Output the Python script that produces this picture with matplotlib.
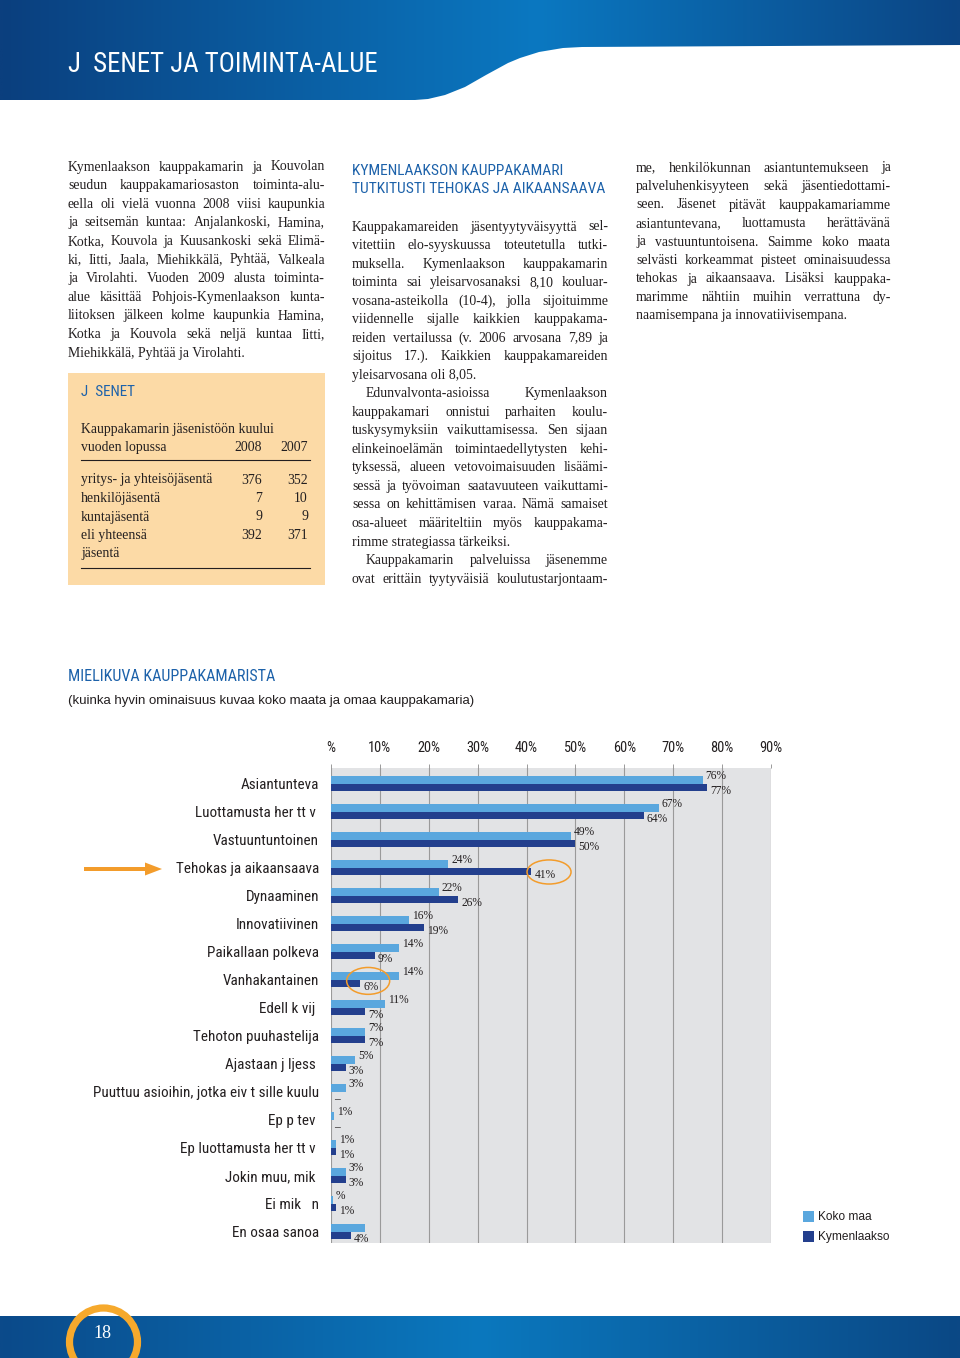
import matplotlib
matplotlib.use('Agg')
import matplotlib.pyplot as plt
import matplotlib.font_manager as fm
from matplotlib.patches import Rectangle, Ellipse, Circle, FancyArrow
from matplotlib.path import Path
from matplotlib.colors import LinearSegmentedColormap
import numpy as np

# ---- chart data ----
categories = ["Asiantunteva", "Luottamusta her tt v ", "Vastuuntuntoinen",
              "Tehokas ja aikaansaava", "Dynaaminen", "Innovatiivinen",
              "Paikallaan polkeva", "Vanhakantainen", "Edell k vij ",
              "Tehoton puuhastelija", "Ajastaan j ljess ",
              "Puuttuu asioihin, jotka eiv t sille kuulu", "Ep p tev ",
              "Ep luottamusta her tt v ", "Jokin muu, mik ", "Ei mik   n",
              "En osaa sanoa"]
koko_maa = [76, 67, 49, 24, 22, 16, 14, 14, 11, 7, 5, 3, 0.7, 1, 3, 0.4, 7]
koko_maa_labels = ["76%", "67%", "49%", "24%", "22%", "16%", "14%", "14%", "11%",
                   "7%", "5%", "3%", "1%", "1%", "3%", "%", ""]
kymenlaakso = [77, 64, 50, 41, 26, 19, 9, 6, 7, 7, 3, 0, 0, 1, 3, 1, 4]
kymenlaakso_labels = ["77%", "64%", "50%", "41%", "26%", "19%", "9%", "6%", "7%",
                      "7%", "3%", "\u2013", "\u2013", "1%", "3%", "1%", "4%"]
x_ticks = [0, 10, 20, 30, 40, 50, 60, 70, 80, 90]
x_tick_labels = ["%", "10%", "20%", "30%", "40%", "50%", "60%", "70%", "80%", "90%"]
series_names = ["Koko maa", "Kymenlaakso"]

# members table
member_rows = ["yritys- ja yhteisöjäsentä", "henkilöjäsentä", "kuntajäsentä", "eli yhteensä"]
members_2008 = [376, 7, 9, 392]
members_2007 = [352, 10, 9, 371]

# ---- page text ----
left_lines = [
    "Kymenlaakson kauppakamarin ja Kouvolan",
    "seudun kauppakamariosaston toiminta-alu-",
    "eella oli vielä vuonna 2008 viisi kaupunkia",
    "ja seitsemän kuntaa: Anjalankoski, Hamina,",
    "Kotka, Kouvola ja Kuusankoski sekä Elimä-",
    "ki, Iitti, Jaala, Miehikkälä, Pyhtää, Valkeala",
    "ja Virolahti. Vuoden 2009 alusta toiminta-",
    "alue käsittää Pohjois-Kymenlaakson kunta-",
    "liitoksen jälkeen kolme kaupunkia Hamina,",
    "Kotka ja Kouvola sekä neljä kuntaa Iitti,",
    "|Miehikkälä, Pyhtää ja Virolahti.",
]
mid_lines = [
    "Kauppakamareiden jäsentyytyväisyyttä sel-",
    "vitettiin elo-syyskuussa toteutetulla tutki-",
    "muksella. Kymenlaakson kauppakamarin",
    "toiminta sai yleisarvosanaksi 8,10 kouluar-",
    "vosana-asteikolla (10-4), jolla sijoituimme",
    "viidennelle sijalle kaikkien kauppakama-",
    "reiden vertailussa (v. 2006 arvosana 7,89 ja",
    "sijoitus 17.). Kaikkien kauppakamareiden",
    "|yleisarvosana oli 8,05.",
    ">Edunvalvonta-asioissa Kymenlaakson",
    "kauppakamari onnistui parhaiten koulu-",
    "tuskysymyksiin vaikuttamisessa. Sen sijaan",
    "elinkeinoelämän toimintaedellytysten kehi-",
    "tyksessä, alueen vetovoimaisuuden lisäämi-",
    "sessä ja työvoiman saatavuuteen vaikuttami-",
    "sessa on kehittämisen varaa. Nämä samaiset",
    "osa-alueet määriteltiin myös kauppakama-",
    "|rimme strategiassa tärkeiksi.",
    ">Kauppakamarin palveluissa jäsenemme",
    "ovat erittäin tyytyväisiä koulutustarjontaam-",
]
right_lines = [
    "me, henkilökunnan asiantuntemukseen ja",
    "palveluhenkisyyteen sekä jäsentiedottami-",
    "seen. Jäsenet pitävät kauppakamariamme",
    "asiantuntevana, luottamusta herättävänä",
    "ja vastuuntuntoisena. Saimme koko maata",
    "selvästi korkeammat pisteet ominaisuudessa",
    "tehokas ja aikaansaava. Lisäksi kauppaka-",
    "marimme nähtiin muihin verrattuna dy-",
    "|naamisempana ja innovatiivisempana.",
]

# ---- fonts ----
have = {f.name for f in fm.fontManager.ttflist}
def pick(*names):
    for n in names:
        if n in have:
            return n
    return 'DejaVu Sans'
NARROW = pick('Roboto Condensed', 'Liberation Sans Narrow', 'DejaVu Sans Condensed', 'Liberation Sans')
SERIF = pick('Liberation Serif', 'DejaVu Serif')
SANS = pick('Liberation Sans', 'Open Sans')

TXT = '#231f20'
BLUE_HEAD = '#1d62aa'
LIGHT = '#5aa7de'
DARK = '#233f8d'
ORANGE = '#f39c2b'

fig = plt.figure(figsize=(9.6, 13.58), dpi=100)
pg = fig.add_axes([0, 0, 1, 1])
pg.axis('off')

# header band with gradient
hdr_cmap = LinearSegmentedColormap.from_list('hdr', [(0, '#0b3f7e'), (0.56, '#0a78c1'), (1, '#0c4584')])
grad = np.linspace(0, 1, 512).reshape(1, -1)
im = pg.imshow(grad, extent=[0, 960, 100, 0], cmap=hdr_cmap, aspect='auto', zorder=1)
hv = [(0, 0), (960, 0), (960, 45), (582, 47), (563, 48), (539, 52), (520, 58),
      (508, 63), (486, 75), (465, 87), (445, 95), (428, 99), (415, 100), (0, 100), (0, 0)]
hpath = Path(hv, [Path.MOVETO] + [Path.LINETO] * (len(hv) - 2) + [Path.CLOSEPOLY])
im.set_clip_path(hpath, transform=pg.transData)

# footer band
ftr_cmap = LinearSegmentedColormap.from_list('ftr', [(0, '#0b4a8a'), (0.5, '#0a78be'), (1, '#0b4885')])
pg.imshow(grad, extent=[0, 960, 1358, 1316], cmap=ftr_cmap, aspect='auto', zorder=1)
pg.set_xlim(0, 960)
pg.set_ylim(1358, 0)

r = fig.canvas.get_renderer()

def fit(t, w):
    cur = t.get_window_extent(r).width
    t.set_fontsize(t.get_fontsize() * w / cur)
    return t

# title
t = pg.text(68, 72, "J  SENET JA TOIMINTA-ALUE", family=NARROW, fontsize=20, color='white',
            va='baseline', zorder=3)
fit(t, 310)

# page number circle
pg.add_patch(Circle((103.5, 1342), 34, fill=False, ec='#f6a92c', lw=5.2, zorder=4))
pg.text(102.5, 1334, "18", family=SERIF, fontsize=13, color='white', ha='center', va='center', zorder=5)

BODY = 9.9
MIN_GAP = 3.0

def column(lines, x0, x1, y0, step, indent=14):
    for k, line in enumerate(lines):
        yb = y0 + k * step
        last = line.startswith('|')
        ind = indent if line.startswith('>') else 0
        line = line.lstrip('|>')
        if last:
            pg.text(x0 + ind, yb, line, family=SERIF, fontsize=BODY, color=TXT, va='baseline')
            continue
        words = line.split()
        ts = [pg.text(0, yb, w, family=SERIF, fontsize=BODY, color=TXT, va='baseline') for w in words]
        ws = [tt.get_window_extent(r).width for tt in ts]
        span = x1 - x0 - ind
        need = sum(ws) + MIN_GAP * (len(words) - 1)
        if need > span:
            sc = (span - MIN_GAP * (len(words) - 1)) / sum(ws)
            for tt in ts:
                tt.set_fontsize(BODY * sc)
            ws = [w * sc for w in ws]
        gap = (span - sum(ws)) / max(len(words) - 1, 1)
        x = x0 + ind
        for tt, w in zip(ts, ws):
            tt.set_x(x)
            x += w + gap

column(left_lines, 68, 325, 170.5, 18.6)
column(mid_lines, 352, 608, 230.5, 18.53)
column(right_lines, 636, 891, 171.5, 18.5)

# middle heading
h1 = pg.text(352, 175, "KYMENLAAKSON KAUPPAKAMARI", family=NARROW, fontsize=11, color=BLUE_HEAD, va='baseline')
h2 = pg.text(352, 193, "TUTKITUSTI TEHOKAS JA AIKAANSAAVA", family=NARROW, fontsize=11, color=BLUE_HEAD, va='baseline')
fit(h2, 252)
h1.set_fontsize(h2.get_fontsize())

# members box
pg.add_patch(Rectangle((68, 373), 257, 212, fc='#fcdaa6', ec='none', zorder=1))
bt = pg.text(81, 396, "J  SENET", family=NARROW, fontsize=11, color=BLUE_HEAD, va='baseline', zorder=2)
fit(bt, 54)
pg.text(81, 432.5, "Kauppakamarin jäsenistöön kuului", family=SERIF, fontsize=BODY, color=TXT, va='baseline', zorder=2)
pg.text(81, 451, "vuoden lopussa", family=SERIF, fontsize=BODY, color=TXT, va='baseline', zorder=2)
pg.text(262, 451, "2008", family=SERIF, fontsize=BODY, color=TXT, va='baseline', ha='right', zorder=2)
pg.text(308, 451, "2007", family=SERIF, fontsize=BODY, color=TXT, va='baseline', ha='right', zorder=2)
pg.plot([81, 310], [460, 460], color=TXT, lw=0.8, zorder=2)
for k, name in enumerate(member_rows):
    yb = 483.5 + k * 18.5
    pg.text(81, yb, name, family=SERIF, fontsize=BODY, color=TXT, va='baseline', zorder=2)
    pg.text(262, yb, str(members_2008[k]), family=SERIF, fontsize=BODY, color=TXT, va='baseline', ha='right', zorder=2)
    pg.text(308, yb, str(members_2007[k]), family=SERIF, fontsize=BODY, color=TXT, va='baseline', ha='right', zorder=2)
pg.text(81, 483.5 + 4 * 18.5, "jäsentä", family=SERIF, fontsize=BODY, color=TXT, va='baseline', zorder=2)
pg.plot([81, 310], [568, 568], color=TXT, lw=0.8, zorder=2)

# chart heading
ct = pg.text(68, 681, "MIELIKUVA KAUPPAKAMARISTA", family=NARROW, fontsize=11, color=BLUE_HEAD, va='baseline')
fit(ct, 208)
st = pg.text(68, 701, "(kuinka hyvin ominaisuus kuvaa koko maata ja omaa kauppakamaria)",
             family=SANS, fontsize=9, color=TXT, va='center')
fit(st, 410)

# ---- bar chart ----
ax = fig.add_axes([331 / 960, 1 - 1243 / 1358, 440 / 960, 475 / 1358])
ax.set_facecolor('#e2e3e5')
n = len(categories)
y = np.arange(n)
h = 7.5 / 28
ax.barh(y - h / 2, koko_maa, height=h, color=LIGHT, zorder=3)
ax.barh(y + h / 2, kymenlaakso, height=h, color=DARK, zorder=3)
ax.set_xlim(0, 90)
ax.set_ylim(n - 1 + 11.5 / 28, -15.5 / 28)
ax.set_xticks(x_ticks)
ax.set_xticklabels(x_tick_labels, family=NARROW, fontsize=10.4, color=TXT)
ax.xaxis.tick_top()
ax.tick_params(axis='x', length=3, width=0.7, color='#9a9a9a', pad=6.2)
ax.grid(axis='x', color='#9a9a9a', lw=0.8)
ax.set_axisbelow(True)
for s in ax.spines.values():
    s.set_visible(False)
ax.set_yticks(y)
ax.set_yticklabels(categories, family=NARROW, fontsize=10.9, color=TXT)
ax.tick_params(axis='y', length=0, pad=8.6)

for i in range(n):
    ax.text(koko_maa[i] + 0.6, y[i] - h, koko_maa_labels[i], family=SERIF, fontsize=8.3,
            color=TXT, va='center', ha='left', zorder=4)
    ax.text(kymenlaakso[i] + 0.6, y[i] + h, kymenlaakso_labels[i], family=SERIF, fontsize=8.3,
            color=TXT, va='center', ha='left', zorder=4)

# highlight rings and arrow
ax.add_patch(Ellipse((kymenlaakso[3] + 3.6, y[3] + 0.16), 9.0, 0.86, fill=False, ec=ORANGE,
                     lw=1.1, zorder=5, clip_on=False))
ax.add_patch(Ellipse((kymenlaakso[7] + 1.6, y[7] + 0.05), 8.8, 0.96, fill=False, ec=ORANGE,
                     lw=1.1, zorder=5, clip_on=False))
pg.add_patch(FancyArrow(84, 869, 78, 0, width=4, head_width=13, head_length=17,
                        length_includes_head=True, color=ORANGE, lw=0))

# legend
for k, (name, col) in enumerate(zip(series_names, [LIGHT, DARK])):
    pg.add_patch(Rectangle((803, 1211 + k * 20), 11, 11, fc=col, ec='none'))
    pg.text(818, 1217 + k * 20, name, family=SANS, fontsize=8.6, color=TXT, va='center')

fig.savefig('out.png', dpi=100)
